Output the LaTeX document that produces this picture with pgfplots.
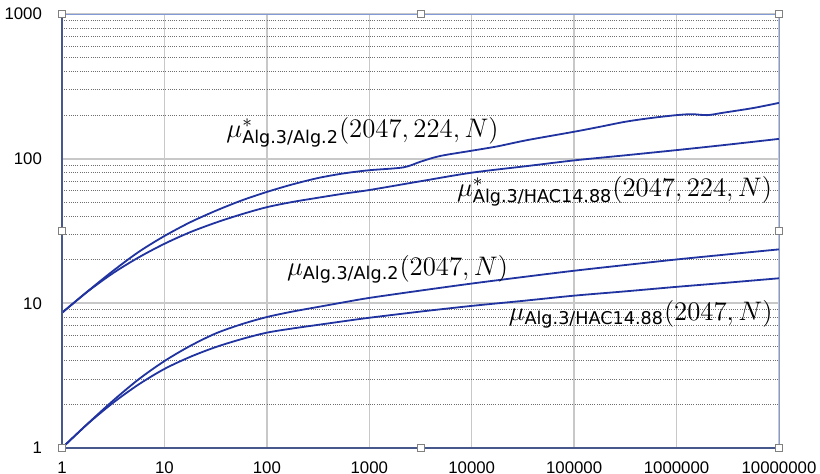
\RequirePackage{fix-cm}
\documentclass[border=0pt]{standalone}
\usepackage{fontspec}
\usepackage{pgfplots}
\pgfplotsset{compat=1.18}
\newfontfamily\tickfont{Liberation Sans}
\newfontfamily\subfont{DejaVu Sans}
\definecolor{curve}{RGB}{32,51,160}
\definecolor{gridlight}{RGB}{200,200,200}
\definecolor{griddot}{RGB}{110,110,110}
\definecolor{axisdark}{RGB}{70,88,140}
\definecolor{axislight}{RGB}{130,155,215}
\newcommand{\sub}[1]{\hbox{\fontsize{8.8}{10}\selectfont\subfont #1}}

\pgfplotstableread{
N v
1 8.6
1.778 12.1
3.162 16.8
5.623 22.7
10 29.2
17.78 36.3
31.62 43.6
56.23 51.3
100 58.9
177.8 66.4
316.2 73.5
562.3 79.1
1000 83.2
2140 87
3162 95.3
4900 104.3
10000 113.5
17780 121.6
34700 134.3
100000 153.5
177800 166
316200 180
562300 191
1000000 200
1413000 203
2000000 200
2884000 208
5623000 224
10000000 243
}\starAlgTwo

\pgfplotstableread{
N v
1 8.6
1.778 12.05
3.162 16.2
5.623 20.8
10 25.8
17.78 31.0
31.62 36.1
56.23 41.2
100 46.2
177.8 50.2
316.2 53.7
562.3 57.3
1000 60.7
3162 69.8
10000 80
34700 88.9
100000 97.3
316200 105.5
1000000 114.6
3162000 125
10000000 137
}\starHAC

\pgfplotstableread{
N v
1 1
1.778 1.47
3.162 2.13
5.623 2.99
10 3.99
17.78 5.07
31.62 6.19
56.23 7.16
100 8.04
177.8 8.77
316.2 9.44
562.3 10.16
1000 10.9
3162 12.25
10000 13.7
31620 15.2
100000 16.8
316200 18.4
1000000 20.1
3162000 21.8
10000000 23.6
}\AlgTwo

\pgfplotstableread{
N v
1 1
1.778 1.466
3.162 2.056
5.623 2.754
10 3.52
17.78 4.26
31.62 4.98
56.23 5.65
100 6.27
177.8 6.70
316.2 7.10
562.3 7.52
1000 7.95
3162 8.77
10000 9.6
31620 10.4
100000 11.3
316200 12.1
1000000 13.0
3162000 13.9
10000000 14.9
}\HAC

\begin{document}
\begin{tikzpicture}
\useasboundingbox (-31pt,-13pt) rectangle (379pt,224pt);
\begin{axis}[
  at={(0pt,0pt)}, anchor=south west,
  scale only axis, width=358.5pt, height=217pt,
  xmode=log, ymode=log,
  xmin=1, xmax=10000000, ymin=1, ymax=1000,
  xtick={1,10,100,1000,10000,100000,1000000,10000000},
  xticklabels={1,10,100,1000,10000,100000,1000000,10000000},
  ytick={1,10,100,1000},
  yticklabels={1,10,100,1000},
  minor xtick={},
  minor ytick={2,3,4,5,6,7,8,9,20,30,40,50,60,70,80,90,200,300,400,500,600,700,800,900},
  xmajorgrids=true, ymajorgrids=true, yminorgrids=true, xminorgrids=false,
  major x grid style={color=gridlight, line width=0.7pt},
  major y grid style={color=gridlight, line width=1pt},
  minor y grid style={color=griddot, line width=0.45pt, dash pattern=on 0.55pt off 0.55pt},
  major tick length=0pt, minor tick length=0pt,
  tick style={draw=none},
  axis line style={draw=none},
  ticklabel style={font=\fontsize{8.4}{10}\selectfont\tickfont},
  xticklabel style={yshift=-3.2pt},
  yticklabel style={anchor=east, xshift=-6.5pt},
  clip=false,
]
\addplot[curve, line width=0.9pt, smooth] table[x=N, y=v] {\starAlgTwo};
\addplot[curve, line width=0.9pt, smooth] table[x=N, y=v] {\starHAC};
\addplot[curve, line width=0.9pt, smooth] table[x=N, y=v] {\AlgTwo};
\addplot[curve, line width=0.9pt, smooth] table[x=N, y=v] {\HAC};

\node[anchor=base west, inner sep=0pt, font=\fontsize{13.4}{15}\selectfont] at (axis cs:40,141) {$\mu^{*}_{\sub{Alg.3/Alg.2}}(2047, 224, N)$};
\node[anchor=base west, inner sep=0pt, font=\fontsize{13.4}{15}\selectfont] at (axis cs:7150,55.1) {$\mu^{*}_{\sub{Alg.3/HAC14.88}}(2047, 224, N)$};
\node[anchor=base west, inner sep=0pt, font=\fontsize{13.4}{15}\selectfont] at (axis cs:156,15.6) {$\mu_{\sub{Alg.3/Alg.2}}(2047, N)$};
\node[anchor=base west, inner sep=0pt, font=\fontsize{13.4}{15}\selectfont] at (axis cs:22800,7.67) {$\mu_{\sub{Alg.3/HAC14.88}}(2047, N)$};

\draw[axislight, line width=0.5pt] (rel axis cs:0,1) -- (rel axis cs:1,1) -- (rel axis cs:1,0);
\draw[axisdark, line width=0.6pt] (rel axis cs:0,1) -- (rel axis cs:0,0) -- (rel axis cs:1,0);

\tikzset{handle/.style={draw=gray, fill=white, line width=0.4pt, minimum size=3.5pt, inner sep=0pt}}
\node[handle] at (rel axis cs:0,0) {};
\node[handle] at (rel axis cs:0.5,0) {};
\node[handle] at (rel axis cs:1,0) {};
\node[handle] at (rel axis cs:0,0.5) {};
\node[handle] at (rel axis cs:1,0.5) {};
\node[handle] at (rel axis cs:0,1) {};
\node[handle] at (rel axis cs:0.5,1) {};
\node[handle] at (rel axis cs:1,1) {};
\end{axis}
\end{tikzpicture}
\end{document}
